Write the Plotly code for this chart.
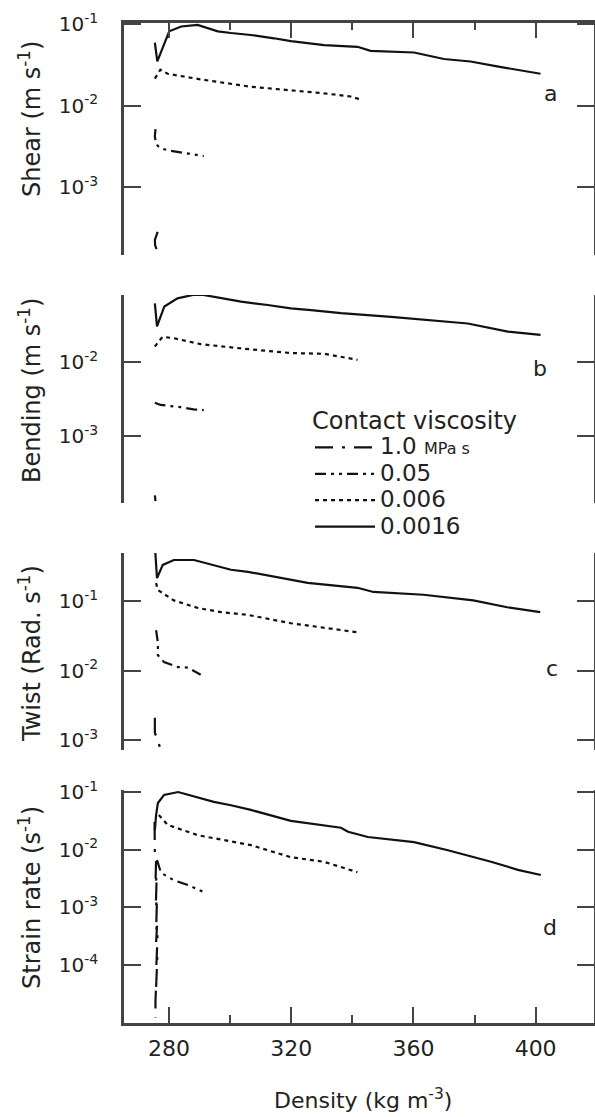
import plotly.graph_objects as go

# ---------------- data ----------------
# Panel a: Shear (m s^-1)
a_x_0016 = [275.4, 276.2, 280.1, 284.0, 289.4, 292.7, 296.0, 300.3, 306.8, 314.4, 319.9, 330.8, 341.7, 346.0, 360.2, 370.0, 378.7, 387.4, 394.0, 401.6]
a_y_0016 = [0.0589, 0.0347, 0.0813, 0.0933, 0.0977, 0.0891, 0.0813, 0.0776, 0.0733, 0.0668, 0.0617, 0.0550, 0.0525, 0.0468, 0.0447, 0.0372, 0.0347, 0.0302, 0.0275, 0.0245]
a_x_006 = [275.4, 277.2, 279.6, 290.4, 306.8, 319.9, 330.8, 339.5, 342.2]
a_y_006 = [0.0214, 0.0275, 0.0245, 0.0209, 0.0170, 0.0155, 0.0141, 0.0129, 0.0120]
a_x_05 = [275.6, 275.4, 275.8, 277.0, 279.7, 283.0, 286.2, 291.4]
a_y_05 = [0.00513, 0.00417, 0.00339, 0.00302, 0.00282, 0.00269, 0.00257, 0.00240]
a_x_10 = [276.3, 275.4, 275.5, 276.4]
a_y_10 = [0.000282, 0.000224, 0.000191, 0.000158]

# Panel b: Bending (m s^-1)
b_x_0016 = [275.4, 276.1, 278.5, 282.8, 289.4, 296.0, 303.6, 312.3, 319.9, 326.5, 336.3, 352.7, 363.6, 377.8, 390.9, 401.6]
b_y_0016 = [0.0621, 0.0302, 0.0562, 0.0724, 0.0832, 0.0750, 0.0653, 0.0589, 0.0531, 0.0501, 0.0457, 0.0407, 0.0372, 0.0331, 0.0257, 0.0232]
b_x_006 = [275.4, 277.9, 281.7, 290.4, 306.8, 319.9, 330.8, 341.7]
b_y_006 = [0.0162, 0.0219, 0.0209, 0.0174, 0.0148, 0.0132, 0.0129, 0.0107]
b_x_05 = [275.4, 277.3, 283.8, 288.0, 291.4]
b_y_05 = [0.00282, 0.00263, 0.00245, 0.00229, 0.00224]
b_x_10 = [275.4, 275.6]
b_y_10 = [0.000158, 0.000132]

# Panel c: Twist (Rad. s^-1)
c_x_0016 = [275.4, 276.1, 278.0, 281.6, 288.2, 294.7, 300.3, 305.9, 319.9, 325.4, 341.7, 346.9, 363.3, 379.6, 390.7, 401.5]
c_y_0016 = [0.631, 0.214, 0.331, 0.389, 0.389, 0.331, 0.282, 0.263, 0.1995, 0.182, 0.155, 0.135, 0.123, 0.102, 0.0813, 0.0692]
c_x_006 = [275.8, 276.3, 281.6, 289.5, 297.0, 305.9, 319.9, 341.7]
c_y_006 = [0.182, 0.145, 0.102, 0.0794, 0.0692, 0.0631, 0.0479, 0.0355]
c_x_05 = [275.8, 276.4, 276.4, 278.4, 283.0, 286.2, 290.4]
c_y_05 = [0.0380, 0.0251, 0.0166, 0.0132, 0.0112, 0.0110, 0.00871]
c_x_10 = [275.4, 275.4, 276.4, 277.4]
c_y_10 = [0.00209, 0.00126, 0.00100, 0.000676]

# Panel d: Strain rate (s^-1)
d_x_0016 = [275.4, 275.8, 276.4, 278.4, 283.0, 289.5, 294.7, 300.3, 306.8, 319.9, 336.3, 338.6, 345.1, 360.2, 371.3, 385.4, 394.2, 401.7]
d_y_0016 = [0.0219, 0.0398, 0.0646, 0.0891, 0.100, 0.0813, 0.0676, 0.0589, 0.0490, 0.0316, 0.0240, 0.0204, 0.0166, 0.0135, 0.00977, 0.00617, 0.00447, 0.00363]
d_x_006 = [276.7, 279.6, 289.5, 298.0, 306.8, 319.9, 330.7, 341.7]
d_y_006 = [0.0398, 0.0269, 0.0178, 0.0148, 0.0120, 0.00741, 0.00617, 0.00407]
d_x_05 = [276.1, 277.4, 281.6, 286.2, 291.1]
d_y_05 = [0.00661, 0.00398, 0.00295, 0.00245, 0.00186]
d_x_10 = [275.3, 275.3, 275.4, 275.8, 275.6, 275.9, 275.6, 276.0, 275.7, 276.0, 275.7, 276.1, 275.8, 276.1,
          275.8, 276.2, 275.8, 276.3, 275.9, 276.3, 275.9, 276.2, 275.8, 276.1, 275.8, 275.9, 275.6, 275.6]
d_y_10 = [0.0302, 0.0148, 0.00912, 0.00661, 0.00398, 0.00501, 0.00251, 0.00355, 0.00158, 0.00224, 0.00100, 0.00141,
          0.000631, 0.000891, 0.000398, 0.000562, 0.000251, 0.000355, 0.000158, 0.000224, 0.000100, 0.000141,
          0.0000631, 0.0000891, 0.0000398, 0.0000562, 0.0000245, 0.0000120]

series_names = ["<span style='font-size:23px'>1.0 </span><span style='font-size:16px'>MPa s</span>",
                "<span style='font-size:23px'>0.05</span>",
                "<span style='font-size:23px'>0.006</span>",
                "<span style='font-size:23px'>0.0016</span>"]
legend_title = "Contact viscosity"
panel_letters = ["a", "b", "c", "d"]
y_titles = ["Shear (m s<sup>-1</sup>)", "Bending (m s<sup>-1</sup>)",
            "Twist (Rad. s<sup>-1</sup>)", "Strain rate (s<sup>-1</sup>)"]
x_title = "Density (kg m<sup>-3</sup>)"
x_tickvals = [280, 320, 360, 400]
x_minorvals = [300, 340, 380]
y_tickvals = [[1e-1, 1e-2, 1e-3], [1e-2, 1e-3], [1e-1, 1e-2, 1e-3], [1e-1, 1e-2, 1e-3, 1e-4]]
y_ticktext = [["10<sup>-1</sup>", "10<sup>-2</sup>", "10<sup>-3</sup>"],
              ["10<sup>-2</sup>", "10<sup>-3</sup>"],
              ["10<sup>-1</sup>", "10<sup>-2</sup>", "10<sup>-3</sup>"],
              ["10<sup>-1</sup>", "10<sup>-2</sup>", "10<sup>-3</sup>", "10<sup>-4</sup>"]]

panels = [
    [(a_x_10, a_y_10), (a_x_05, a_y_05), (a_x_006, a_y_006), (a_x_0016, a_y_0016)],
    [(b_x_10, b_y_10), (b_x_05, b_y_05), (b_x_006, b_y_006), (b_x_0016, b_y_0016)],
    [(c_x_10, c_y_10), (c_x_05, c_y_05), (c_x_006, c_y_006), (c_x_0016, c_y_0016)],
    [(d_x_10, d_y_10), (d_x_05, d_y_05), (d_x_006, d_y_006), (d_x_0016, d_y_0016)],
]

# ---------------- layout geometry ----------------
W, H = 595, 1117
ML, MR = 124, 1
PW = W - ML - MR
x_range = [265.3, 419.1]
panel_px = [(22.7, 255), (295, 503), (553, 750), (790, 1023)]
y_ranges = [[-3.834, -0.984], [-3.905, -1.095], [-3.144, -0.309], [-5.006, -0.965]]

dashes = ["18px,9px,3px,9px", "11px,5px,3px,5px,3px,5px", "4px,4px", "solid"]
LINE_C = "#111111"
AX_C = "#444444"
TXT_C = "#222222"
FONT = "DejaVu Sans"

fig = go.Figure()
for p, series in enumerate(panels):
    xa = "x" if p == 0 else f"x{p+1}"
    ya = "y" if p == 0 else f"y{p+1}"
    for s, (xs, ys) in enumerate(series):
        fig.add_trace(go.Scatter(
            x=xs, y=ys, mode="lines", xaxis=xa, yaxis=ya,
            name=series_names[s], legendgroup=f"s{s}", showlegend=(p == 0),
            line=dict(color=LINE_C, width=2.2, dash=dashes[s]),
        ))

layout = dict(
    width=W, height=H,
    margin=dict(l=ML, r=MR, t=0, b=0, autoexpand=False),
    paper_bgcolor="white", plot_bgcolor="white",
    font=dict(family=FONT, size=20, color=TXT_C),
    showlegend=True,
    legend=dict(
        x=(310 - ML) / PW, y=(H - 398) / H, xanchor="left", yanchor="top",
        title=dict(text=legend_title, font=dict(size=24, family=FONT, color=TXT_C)),
        font=dict(size=18, family=FONT, color=TXT_C), bgcolor="rgba(0,0,0,0)",
        tracegroupgap=0, itemwidth=60,
    ),
)

for p in range(4):
    top, bot = panel_px[p]
    dom = [(H - bot) / H, (H - top) / H]
    xk = "xaxis" if p == 0 else f"xaxis{p+1}"
    yk = "yaxis" if p == 0 else f"yaxis{p+1}"
    ya = "y" if p == 0 else f"y{p+1}"
    xa = "x" if p == 0 else f"x{p+1}"
    xcfg = dict(range=x_range, domain=[0, 1], anchor=ya, showgrid=False, zeroline=False,
                tickmode="array", tickvals=x_tickvals, automargin=False)
    if p == 0:
        xcfg.update(side="top", showline=True, linecolor=AX_C, linewidth=2.5,
                    ticks="inside", ticklen=16, tickwidth=2, tickcolor=AX_C,
                    showticklabels=False,
                    minor=dict(tickmode="array", tickvals=x_minorvals, ticks="inside",
                               ticklen=8, tickwidth=2, tickcolor=AX_C))
    elif p == 3:
        xcfg.update(side="bottom", showline=True, linecolor=AX_C, linewidth=2.5,
                    ticks="inside", ticklen=16, tickwidth=2, tickcolor=AX_C,
                    showticklabels=True, tickfont=dict(size=22, family=FONT, color=TXT_C),
                    ticklabelstandoff=4,
                    minor=dict(tickmode="array", tickvals=x_minorvals, ticks="inside",
                               ticklen=8, tickwidth=2, tickcolor=AX_C))
    else:
        xcfg.update(visible=False)
    if p > 0:
        xcfg["matches"] = "x"
    layout[xk] = xcfg
    layout[yk] = dict(
        type="log", range=y_ranges[p], domain=dom, anchor=xa, automargin=False,
        showgrid=False, zeroline=False, showline=True, linecolor=AX_C, linewidth=2.5,
        mirror="ticks", ticks="inside", ticklen=17, tickwidth=2, tickcolor=AX_C,
        tickmode="array", tickvals=y_tickvals[p], ticktext=y_ticktext[p],
        tickfont=dict(size=20, family=FONT, color=TXT_C), ticklabelstandoff=19,
    )

fig.update_layout(**layout)

# panel letters
letter_px = [(550, 93), (540, 368), (552, 669), (550, 928)]
for (lx, ly), t in zip(letter_px, panel_letters):
    fig.add_annotation(text=t, x=(lx - ML) / PW, y=(H - ly) / H, xref="paper", yref="paper",
                       showarrow=False, font=dict(size=22, family=FONT, color=TXT_C),
                       xanchor="center", yanchor="middle")

# y titles
title_px = [(30, 119), (30, 391), (30, 654), (30, 898)]
for (tx, ty), t in zip(title_px, y_titles):
    fig.add_annotation(text=t, x=(tx - ML) / PW, y=(H - ty) / H, xref="paper", yref="paper",
                       showarrow=False, textangle=-90,
                       font=dict(size=24, family=FONT, color=TXT_C),
                       xanchor="center", yanchor="middle")

# x title
fig.add_annotation(text=x_title, x=(363 - ML) / PW, y=(H - 1099) / H,
                   xref="paper", yref="paper", showarrow=False,
                   font=dict(size=22, family=FONT, color=TXT_C),
                   xanchor="center", yanchor="middle")

# remove the default page margin so the 595x1117 figure fills the window exactly
page_fix = "document.body.style.margin='0px';document.body.style.overflow='hidden';"

fig.write_html("out.html", post_script=page_fix, config={"displayModeBar": False})
